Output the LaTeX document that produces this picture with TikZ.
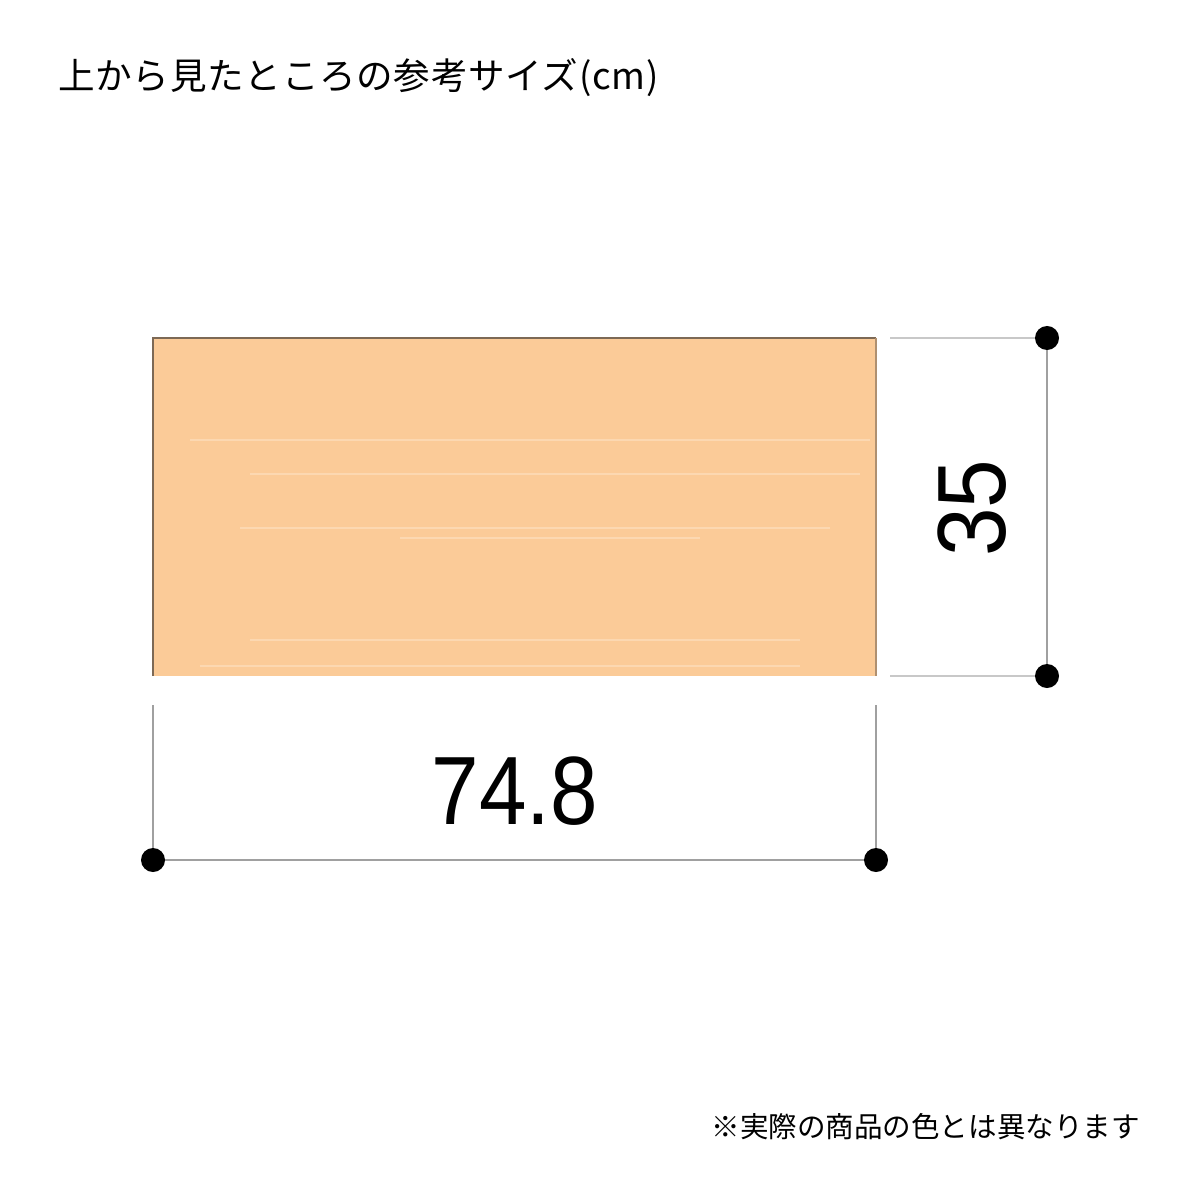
\documentclass[tikz,border=0pt]{standalone}
\usepackage{fontspec}
\setmainfont{Liberation Sans}
\newfontfamily\jpfont{Noto Sans CJK JP}
\newfontfamily\jptitlefont[LetterSpace=2]{Noto Sans CJK JP}
\definecolor{woodfill}{RGB}{251,203,152}
\definecolor{woodedge}{RGB}{125,105,85}
\definecolor{dimgrey}{RGB}{160,160,160}
\definecolor{extgrey}{RGB}{200,200,200}
\tikzset{
    dimdot/.style={circle, fill=black, inner sep=0pt, minimum size=0.6cm},
    dimline/.style={draw=dimgrey, line width=1.2pt},
    extline/.style={draw=extgrey, line width=1.2pt},
    dimlabel/.style={inner sep=0pt, font=\fontsize{69}{69}\selectfont}
}
\begin{document}
\begin{tikzpicture}[x=0.025cm, y=-0.025cm]
        \useasboundingbox (0,0) rectangle (1200,1200);
        % title and note
        \node[anchor=west, inner sep=0pt, font=\jptitlefont\fontsize{26}{26}\selectfont] (title) at (58,78) {上から見たところの参考サイズ(cm)};
        \node[anchor=east, inner sep=0pt, font=\jpfont\fontsize{20.3}{20.3}\selectfont] (note) at (1140,1127) {※実際の商品の色とは異なります};
        % board seen from above
        \fill[woodfill] (153,338) rectangle (876,676);
        \foreach \y/\a/\b in {440/190/870, 474/250/860, 528/240/830, 538/400/700, 640/250/800, 666/200/800} {
            \draw[white, opacity=0.25, line width=1.5pt] (\a,\y) -- (\b,\y);
        }
        \draw[woodedge, line width=0.8pt] (153,676) -- (153,338) -- (876,338);
        \draw[woodedge!60!woodfill, line width=0.8pt] (876,338) -- (876,676);
        % depth
        \node[dimdot] (dtop) at (1047,338) {};
        \node[dimdot] (dbot) at (1047,676) {};
        \coordinate (etop) at (890,338);
        \coordinate (ebot) at (890,676);
        \draw[extline] (etop) -- (dtop);
        \draw[extline] (ebot) -- (dbot);
        \draw[dimline] (dtop) -- (dbot);
        \node[dimlabel, rotate=90] (depth) at (972,508) {\scalebox{0.9}[1]{35}};
        % width
        \node[dimdot] (wleft) at (153,860) {};
        \node[dimdot] (wright) at (876,860) {};
        \coordinate (eleft) at (153,705);
        \coordinate (eright) at (876,705);
        \draw[dimline] (eleft) -- (wleft);
        \draw[dimline] (eright) -- (wright);
        \draw[dimline] (wleft) -- (wright);
        \node[dimlabel] (width) at (515,791) {\scalebox{0.88}[1]{74.8}};
    \end{tikzpicture}
\end{document}
